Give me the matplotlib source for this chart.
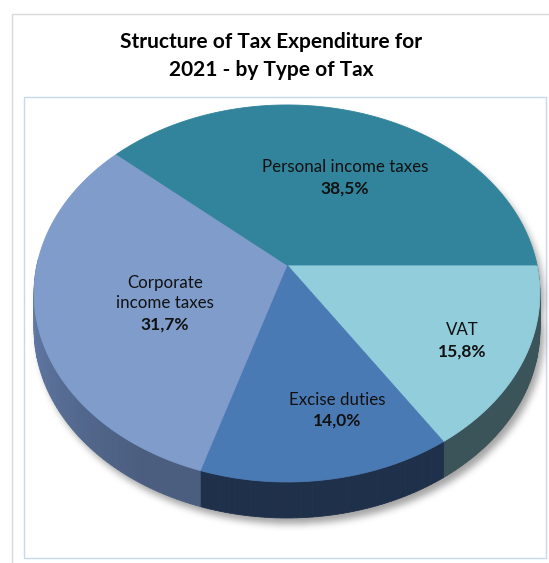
import numpy as np
import matplotlib
matplotlib.use("Agg")
import matplotlib.pyplot as plt
from matplotlib.patches import Polygon, Rectangle
from matplotlib.path import Path

# ---------------- data ----------------
categories = ["VAT", "Excise duties", "Corporate\nincome taxes", "Personal income taxes"]
shares = [15.8, 14.0, 31.7, 38.5]
pct_labels = ["15,8%", "14,0%", "31,7%", "38,5%"]
title = "Structure of Tax Expenditure for\n2021 - by Type of Tax"

# ---------------- style ----------------
top_colors = ["#92CDDC", "#4A7AB4", "#7F9CCB", "#31849B"]
wall_colors = ["#3B5459", "#1F304A", "#4B5E80", "#1E4E5C"]
label_pos = [(462, 330, 352), (337, 400, 421), (165, 293, 325), (345, 167, 189)]

W, H = 549, 563
fig = plt.figure(figsize=(W / 100, H / 100), dpi=100)
ax = fig.add_axes([0, 0, 1, 1])
ax.set_xlim(0, W)
ax.set_ylim(H, 0)
ax.axis("off")

FONT = ["Lato", "DejaVu Sans"]

# borders
ax.add_patch(Rectangle((12, 14), 600, 600, fill=False, edgecolor="#D9D9D9", lw=1.0))
ax.add_patch(Rectangle((24, 97), 522, 461, fill=False, edgecolor="#C6D9F0", lw=1.0))

ax.text(271, 56, title, ha="center", va="center", fontsize=15,
        fontweight="bold", family=FONT, linespacing=1.45, color="black")

# projection of the tilted disc (perspective)
cx, cy, R, S, k, D = 287.0, 265.0, 250.0, 184.2, 0.151, 36.0


def proj(theta_deg, r=1.0, dz=0.0):
    t = np.radians(theta_deg)
    u = r * np.cos(t)
    v = r * np.sin(t)
    w = 1.0 - k * v
    return cx + R * u / w, cy + S * v / w + dz


cum = np.concatenate([[0.0], np.cumsum(shares)]) / np.sum(shares) * 360.0

# ---- soft shadow ----
tt = np.linspace(0, 360, 721)
xs, ys = proj(tt)
xb, yb = proj(tt, dz=D)
gx, gy = np.meshgrid(np.arange(W) + 0.5, np.arange(H) + 0.5)
pts = np.column_stack([gx.ravel(), gy.ravel()])
mask = Path(np.column_stack([xb + 4, yb + 6])).contains_points(pts).reshape(H, W).astype(float)
mask = np.maximum(mask, Path(np.column_stack([xs + 4, ys + 6])).contains_points(pts).reshape(H, W))


def box(a, r, axis):
    c = np.cumsum(np.pad(a, [(r + 1, r) if i == axis else (0, 0) for i in range(2)]), axis=axis)
    if axis == 0:
        return (c[2 * r + 1:] - c[:-2 * r - 1]) / (2 * r + 1)
    return (c[:, 2 * r + 1:] - c[:, :-2 * r - 1]) / (2 * r + 1)


for _ in range(3):
    mask = box(box(mask, 3, 0), 3, 1)
img = np.zeros((H, W, 4))
img[..., :3] = 0.35
img[..., 3] = mask * 0.55
ax.imshow(img, extent=(0, W, H, 0), zorder=1, interpolation="bilinear")

# ---- side walls ----
for i in range(len(shares)):
    a0, a1 = max(cum[i], -2), min(cum[i + 1], 182)
    if a1 <= a0:
        continue
    n = max(int((a1 - a0) / 1.0), 2)
    edges = np.linspace(a0, a1, n + 1)
    base = np.array(matplotlib.colors.to_rgb(wall_colors[i]))
    for j in range(n):
        e0, e1 = edges[j], edges[j + 1]
        mid = 0.5 * (e0 + e1)
        f = 1.0 + 0.35 * np.clip((mid - 120) / 60.0, 0, 1) if i == 2 else 1.0
        col = np.clip(base * f, 0, 1)
        x0, y0 = proj(e0)
        x1, y1 = proj(e1)
        quad = [(x0, y0), (x1, y1), (x1, y1 + D), (x0, y0 + D)]
        ax.add_patch(Polygon(quad, closed=True, facecolor=col, edgecolor=col, lw=0.6, zorder=2))

# ---- top faces ----
for i in range(len(shares)):
    th = np.linspace(cum[i], cum[i + 1], 200)
    px, py = proj(th)
    verts = [(cx, cy)] + list(zip(px, py))
    ax.add_patch(Polygon(verts, closed=True, facecolor=top_colors[i],
                         edgecolor=top_colors[i], lw=0.6, zorder=3))

# ---- labels ----
for i in range(len(shares)):
    x, yn, yp = label_pos[i]
    ax.text(x, yn, categories[i], ha="center", va="center", fontsize=12.2,
            family=FONT, color="#111111", linespacing=1.25, zorder=5)
    ax.text(x, yp, pct_labels[i], ha="center", va="center", fontsize=12.5,
            fontweight="bold", family=FONT, color="#111111", zorder=5)

fig.savefig("out.png", dpi=100)
